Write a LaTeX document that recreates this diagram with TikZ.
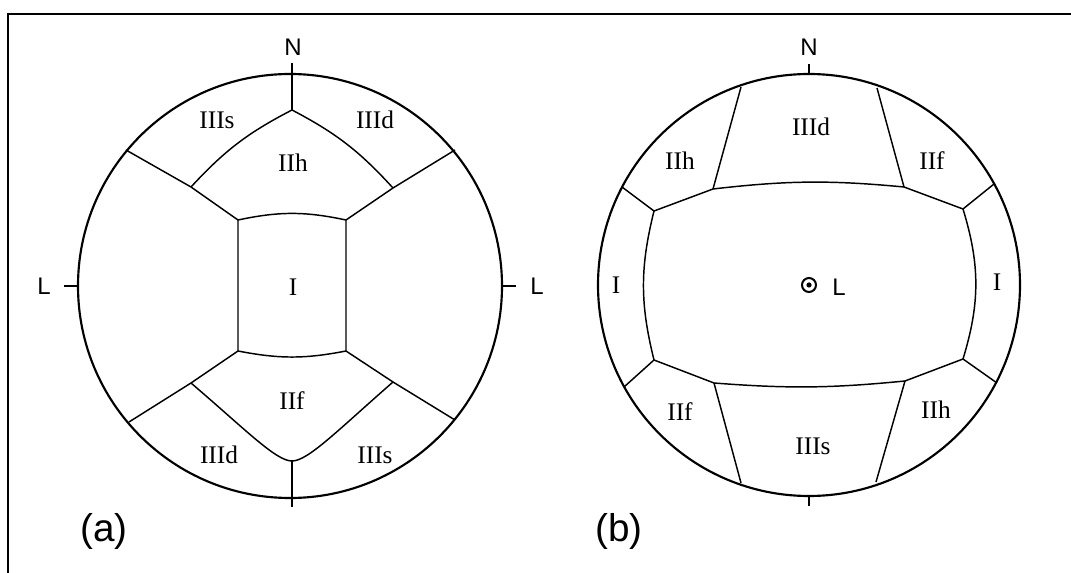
\documentclass[tikz,border=0pt]{standalone}
\usepackage{fontspec}
\setmainfont{Liberation Serif}
\setsansfont{Liberation Sans}

\tikzset{
  rim/.style={line width=1.6pt},
  seg/.style={line width=1.1pt},
  zone/.style={inner sep=0pt, font=\fontsize{19}{19}\selectfont},
  pole/.style={inner sep=0pt, font=\sffamily\fontsize{18}{18}\selectfont},
  tag/.style={inner sep=0pt, font=\sffamily\fontsize{29}{29}\selectfont}
}

\begin{document}
\begin{tikzpicture}[x=0.75pt, y=-0.75pt]
  \useasboundingbox (0,0) rectangle (1071,573);
  \draw[line width=2pt] (8,573) -- (8,14) -- (1071,14);

  % (a)
  \coordinate (ca) at (290,286);
  \draw[rim] (ca) circle (212);
  \coordinate (nt) at (292,63);
  \coordinate (ht) at (292,110);
  \coordinate (ul) at (126,150);
  \coordinate (uj) at (191,187);
  \coordinate (uc) at (238,220);
  \coordinate (ur) at (455,150);
  \coordinate (vj) at (393,188);
  \coordinate (vc) at (346,220);
  \coordinate (ll) at (129,422);
  \coordinate (lj) at (191,383);
  \coordinate (lc) at (238,351);
  \coordinate (mr) at (455,420);
  \coordinate (mj) at (393,382);
  \coordinate (mc) at (346,351);
  \coordinate (hb) at (292,461);
  \coordinate (sb) at (292,507);
  \coordinate (wl) at (64,286);
  \coordinate (wr) at (516,286);

  \draw[seg] (nt) -- (ht);
  \draw[seg] (ht) to[bend right=10] (uj);
  \draw[seg] (ht) to[bend left=10] (vj);
  \draw[seg] (ul) -- (uj) -- (uc) -- (lc) -- (lj) -- (ll);
  \draw[seg] (ur) -- (vj) -- (vc) -- (mc) -- (mj) -- (mr);
  \draw[seg] (uc) to[bend left=12] (vc);
  \draw[seg] (lc) to[bend right=11] (mc);
  \draw[seg] (lj) .. controls (246,430) and (276,461) .. (hb);
  \draw[seg] (mj) .. controls (338,430) and (308,461) .. (hb);
  \draw[seg] (hb) -- (sb);
  \draw[seg] (wl) -- ++(14,0);
  \draw[seg] (wr) -- ++(-14,0);

  \node[pole] (na) at (293,47) {N};
  \node[pole] (la) at (44,286) {L};
  \node[pole] (ra) at (537,286) {L};
  \node[zone] (z1) at (217,120) {IIIs};
  \node[zone] (z2) at (375,120) {IIId};
  \node[zone] (z3) at (293,163) {IIh};
  \node[zone] (z4) at (293,287) {I};
  \node[zone] (z5) at (292,401) {IIf};
  \node[zone] (z6) at (219,455) {IIId};
  \node[zone] (z7) at (375,455) {IIIs};
  \node[tag] (ta) at (104,531) {(a)};

  % (b)
  \coordinate (cb) at (809,285);
  \draw[rim] (cb) circle (211);
  \draw[seg] (809,64) -- (809,74);
  \draw[seg] (809,496) -- (809,506);
  \coordinate (p1) at (741,87);   \coordinate (q1) at (713,189);
  \coordinate (p2) at (877,88);   \coordinate (q2) at (904,187);
  \coordinate (p3) at (622,187);  \coordinate (q3) at (654,211);
  \coordinate (p4) at (994,184);  \coordinate (q4) at (963,209);
  \coordinate (p5) at (624,387);  \coordinate (q5) at (654,360);
  \coordinate (p6) at (997,383);  \coordinate (q6) at (963,359);
  \coordinate (p7) at (741,483);  \coordinate (q7) at (714,383);
  \coordinate (p8) at (876,482);  \coordinate (q8) at (905,381);

  \draw[seg] (q3) -- (q1) to[bend left=6] (q2) -- (q4) to[bend left=17] (q6)
    -- (q8) to[bend left=5] (q7) -- (q5) to[bend left=14] (q3);
  \foreach \k in {1,...,8}
    \draw[seg] (p\k) -- (q\k);

  \node[draw, circle, line width=1.5pt, minimum size=10.5pt, inner sep=0pt] (ob) at (809,285) {};
  \fill (ob.center) circle (2.6);
  \node[pole] (nb) at (809,47) {N};
  \node[pole] (lb) at (839,287) {L};
  \node[zone] (y1) at (811,127) {IIId};
  \node[zone] (y2) at (680,161) {IIh};
  \node[zone] (y3) at (932,161) {IIf};
  \node[zone] (y4) at (616,285) {I};
  \node[zone] (y5) at (997,282) {I};
  \node[zone] (y6) at (680,412) {IIf};
  \node[zone] (y7) at (936,410) {IIh};
  \node[zone] (y8) at (813,446) {IIIs};
  \node[tag] (tb) at (619,531) {(b)};
\end{tikzpicture}
\end{document}
